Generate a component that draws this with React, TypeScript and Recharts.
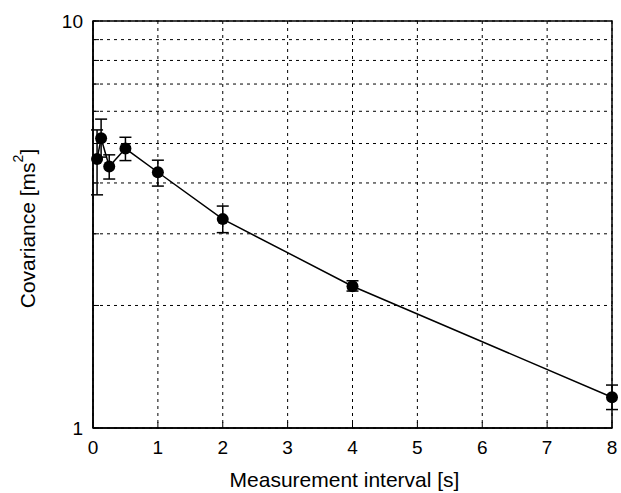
import {
	ComposedChart,
	Line,
	XAxis,
	YAxis,
	CartesianGrid,
	ErrorBar,
	ReferenceArea,
	Label,
} from "recharts";

// measurement interval [s]
const intervals = [0.0625, 0.125, 0.25, 0.5, 1, 2, 4, 8];
// covariance [ms^2]
const covariance = [4.58, 5.15, 4.39, 4.86, 4.25, 3.26, 2.23, 1.19];
const lowerBound = [3.74, 4.63, 4.09, 4.54, 3.93, 3.02, 2.17, 1.11];
const upperBound = [5.4, 5.74, 4.69, 5.18, 4.55, 3.51, 2.3, 1.275];

const xTicks = [0, 1, 2, 3, 4, 5, 6, 7, 8];
const yTicks = [1, 2, 3, 4, 5, 6, 7, 8, 9, 10];
const yLabelled = [1, 10];

const data = intervals.map((x, i) => ({
	x,
	cov: covariance[i],
	// asymmetric error as [below, above] deltas
	err: [covariance[i] - lowerBound[i], upperBound[i] - covariance[i]],
}));

const FONT = "'Liberation Sans', Arial, Helvetica, sans-serif";

function YTitle({ viewBox }: any) {
	const cx = 27;
	const cy = viewBox.y + viewBox.height / 2 + 4;
	return (
		<text
			x={cx}
			y={cy}
			transform={`rotate(-90, ${cx}, ${cy})`}
			textAnchor="middle"
			dominantBaseline="central"
			fontFamily={FONT}
			fontSize={21}
			fill="#000"
		>
			Covariance [ms
			<tspan dy={-9} fontSize={14}>
				2
			</tspan>
			<tspan dy={9}>]</tspan>
		</text>
	);
}

export default function App() {
	return (
		<div style={{ position: "absolute", left: 0, top: 0, background: "#fff" }}>
			<ComposedChart
				width={621}
				height={493}
				data={data}
				margin={{ top: 21, right: 9, bottom: 0, left: 0 }}
			>
				<CartesianGrid
					stroke="#000"
					strokeDasharray="3 4"
					strokeWidth={1}
				/>
				<XAxis
					dataKey="x"
					type="number"
					domain={[0, 8]}
					ticks={xTicks}
					height={65}
					axisLine={{ stroke: "#000", strokeWidth: 1.5 }}
					tickLine={{ stroke: "#000" }}
					tickSize={-6}
					tickMargin={19}
					tick={{ fill: "#000", fontSize: 19, fontFamily: FONT }}
				>
					<Label
						value="Measurement interval [s]"
						position="insideBottom"
						offset={6}
						dx={-8}
						style={{ fill: "#000", fontSize: 21, fontFamily: FONT }}
					/>
				</XAxis>
				<YAxis
					type="number"
					scale="log"
					domain={[1, 10]}
					ticks={yTicks}
					allowDataOverflow
					width={93}
					axisLine={{ stroke: "#000", strokeWidth: 1.5 }}
					tickLine={{ stroke: "#000" }}
					tickSize={-6}
					tickMargin={16}
					tickFormatter={(v: number) => (yLabelled.includes(v) ? String(v) : "")}
					tick={{ fill: "#000", fontSize: 19, fontFamily: FONT }}
				>
					<Label content={<YTitle />} />
				</YAxis>
				<ReferenceArea
					x1={0}
					x2={8}
					y1={1}
					y2={10}
					fill="none"
					stroke="#000"
					strokeWidth={1.5}
					ifOverflow="visible"
				/>
				<Line
					dataKey="cov"
					type="linear"
					stroke="#000"
					strokeWidth={1.5}
					dot={{ r: 6, fill: "#000", stroke: "#000", strokeWidth: 0 }}
					isAnimationActive={false}
				>
					<ErrorBar
						dataKey="err"
						direction="y"
						width={6}
						stroke="#000"
						strokeWidth={1.5}
						isAnimationActive={false}
					/>
				</Line>
			</ComposedChart>
		</div>
	);
}
